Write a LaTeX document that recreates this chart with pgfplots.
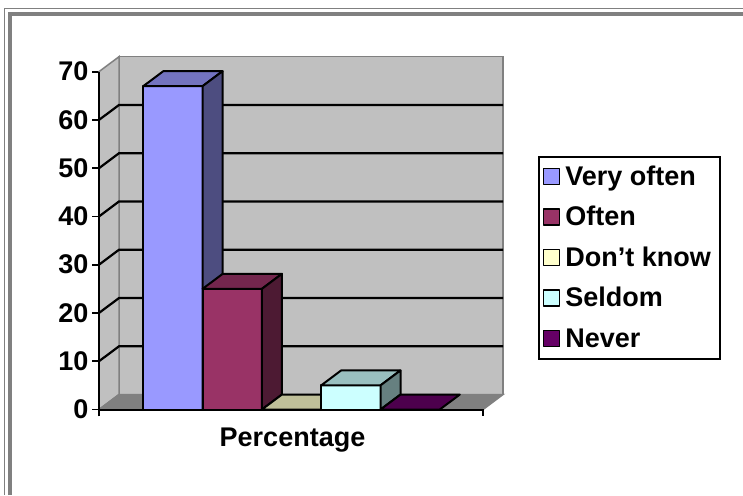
\documentclass[border=0pt]{standalone}
\usepackage{fontspec}
\setmainfont{Liberation Sans}
\usepackage{pgfplots}
\pgfplotsset{compat=1.18}
\definecolor{wall}{HTML}{C0C0C0}
\definecolor{floorc}{HTML}{808080}
\definecolor{vof}{HTML}{9999FF}\definecolor{vot}{HTML}{7373BF}\definecolor{vos}{HTML}{4D4D80}
\definecolor{of}{HTML}{993366}\definecolor{ot}{HTML}{73264D}\definecolor{os}{HTML}{4D1A33}
\definecolor{dk}{HTML}{FFFFCC}\definecolor{dkt}{HTML}{BFBF99}\definecolor{dks}{HTML}{808066}
\definecolor{sd}{HTML}{CCFFFF}\definecolor{sdt}{HTML}{99BFBF}\definecolor{sds}{HTML}{668080}
\definecolor{nv}{HTML}{660066}\definecolor{nvt}{HTML}{4D004D}\definecolor{nvs}{HTML}{330033}
\begin{document}
\begin{tikzpicture}
\useasboundingbox (0,0) rectangle (743pt,495pt);
\fill[white] (0,0) rectangle (743pt,495pt);
\draw[floorc, line width=1pt] (4.5pt,0) -- (4.5pt,486.5pt) -- (743pt,486.5pt);
\draw[floorc, line width=4pt] (10pt,0) -- (10pt,481pt) -- (743pt,481pt);
\begin{axis}[
  at={(99pt,85.5pt)}, anchor=south west,
  scale only axis, width=404pt, height=352.8pt,
  xmin=99, xmax=503, ymin=0, ymax=73.1,
  clip=false,
  axis line style={draw=none},
  xtick=\empty,
  ytick={0,10,20,30,40,50,60,70}, ytick pos=left,
  tick align=outside, major tick length=7pt,
  every tick/.style={black, line width=1.8pt},
  /pgf/number format/assume math mode=true,
  yticklabel style={font=\fontsize{27}{31}\selectfont\bfseries},
  bx/.style={draw=black, line width=2pt, line join=round, line cap=round},
  legend image code/.code={\draw[#1, draw=black, line width=1.5pt] (0pt,-8pt) rectangle (16pt,8pt);},
  legend style={at={(1.0866,0.7192)}, anchor=north west, draw=black, line width=1.8pt, fill=white,
    font=\fontsize{27}{31}\selectfont\bfseries, inner xsep=4pt, inner ysep=3.5pt, row sep=7.5pt,
    cells={anchor=west}, nodes={inner xsep=5pt, inner ysep=3pt, text height=22pt, text depth=5pt}},
]
% walls and floor
\addplot[forget plot, fill=wall, draw=floorc, line width=1.5pt] coordinates {(119,3.1)(503,3.1)(503,73.1)(119,73.1)(119,3.1)};
\addplot[forget plot, fill=wall, draw=floorc, line width=1.5pt] coordinates {(99,0)(119,3.1)(119,73.1)(99,70)(99,0)};
\addplot[forget plot, fill=floorc, draw=floorc, line width=1.5pt] coordinates {(99,0)(483,0)(503,3.1)(119,3.1)(99,0)};
% gridlines
\addplot[forget plot, black, line width=2.2pt] coordinates {(99,10)(119,13.1)(503,13.1)};
\addplot[forget plot, black, line width=2.2pt] coordinates {(99,20)(119,23.1)(503,23.1)};
\addplot[forget plot, black, line width=2.2pt] coordinates {(99,30)(119,33.1)(503,33.1)};
\addplot[forget plot, black, line width=2.2pt] coordinates {(99,40)(119,43.1)(503,43.1)};
\addplot[forget plot, black, line width=2.2pt] coordinates {(99,50)(119,53.1)(503,53.1)};
\addplot[forget plot, black, line width=2.2pt] coordinates {(99,60)(119,63.1)(503,63.1)};
% Very often = 67
\addplot[bx, fill=vof] coordinates {(143.3,0)(202.6,0)(202.6,67)(143.3,67)(143.3,0)};
\addlegendentry{Very often}
\addplot[bx, fill=vot, forget plot] coordinates {(143.3,67)(202.6,67)(222.6,70.1)(163.3,70.1)(143.3,67)};
\addplot[bx, fill=vos, forget plot] coordinates {(202.6,0)(222.6,3.1)(222.6,70.1)(202.6,67)(202.6,0)};
% Often = 25
\addplot[bx, fill=of] coordinates {(202.6,0)(261.9,0)(261.9,25)(202.6,25)(202.6,0)};
\addlegendentry{Often}
\addplot[bx, fill=ot, forget plot] coordinates {(202.6,25)(261.9,25)(281.9,28.1)(222.6,28.1)(202.6,25)};
\addplot[bx, fill=os, forget plot] coordinates {(261.9,0)(281.9,3.1)(281.9,28.1)(261.9,25)(261.9,0)};
% Don't know = 0
\addplot[bx, fill=dk] coordinates {(261.9,0)(321.2,0)(321.2,0)(261.9,0)(261.9,0)};
\addlegendentry{Don’t know}
\addplot[bx, fill=dkt, forget plot] coordinates {(261.9,0)(321.2,0)(341.2,3.1)(281.9,3.1)(261.9,0)};
% Seldom = 5
\addplot[bx, fill=sd] coordinates {(321.2,0)(380.5,0)(380.5,5)(321.2,5)(321.2,0)};
\addlegendentry{Seldom}
\addplot[bx, fill=sdt, forget plot] coordinates {(321.2,5)(380.5,5)(400.5,8.1)(341.2,8.1)(321.2,5)};
\addplot[bx, fill=sds, forget plot] coordinates {(380.5,0)(400.5,3.1)(400.5,8.1)(380.5,5)(380.5,0)};
% Never = 0
\addplot[bx, fill=nv] coordinates {(380.5,0)(439.8,0)(439.8,0)(380.5,0)(380.5,0)};
\addlegendentry{Never}
\addplot[bx, fill=nvt, forget plot] coordinates {(380.5,0)(439.8,0)(459.8,3.1)(400.5,3.1)(380.5,0)};
% axes lines
\addplot[forget plot, black, line width=2pt] coordinates {(99,0)(99,70)};
\addplot[forget plot, black, line width=2pt] coordinates {(99,-1.45)(99,0)(483,0)(483,-1.45)};
\node[anchor=base, font=\fontsize{27}{31}\selectfont\bfseries] at (axis cs:292.5,-7.71) {Percentage};
\end{axis}
\end{tikzpicture}
\end{document}
